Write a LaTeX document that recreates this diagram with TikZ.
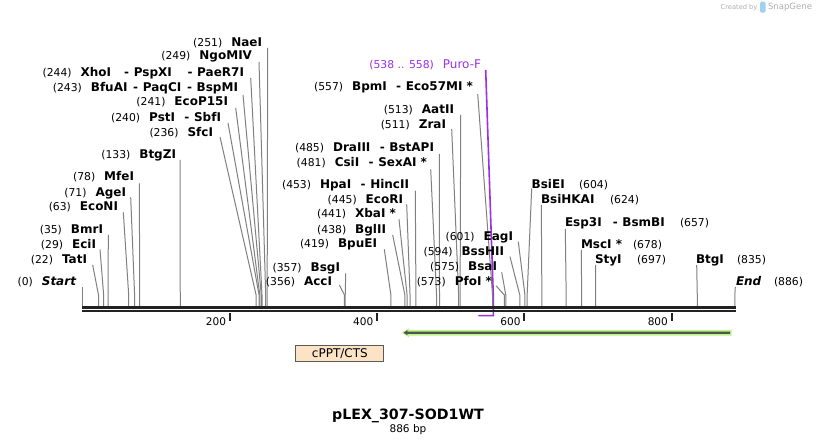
\documentclass[tikz,border=0pt]{standalone}
\usepackage{fontspec}
\setmainfont{DejaVu Sans}
\definecolor{cutgray}{RGB}{128,128,128}
\definecolor{bbcol}{RGB}{34,34,34}
\definecolor{prim}{RGB}{155,48,230}
\definecolor{featgreen}{RGB}{190,242,140}
\definecolor{featdark}{RGB}{78,88,72}
\definecolor{boxfill}{RGB}{253,227,198}
\definecolor{boxdraw}{RGB}{90,90,90}
\definecolor{logogray}{RGB}{175,175,175}
\definecolor{logoblue}{RGB}{160,210,240}
\newcommand\numf{\fontsize{8.1}{10}\selectfont\mdseries\upshape}
\newcommand\namef{\fontsize{9}{11}\selectfont\bfseries}
\newcommand\dsh[1][7pt]{\hspace{#1}-\hspace{3.5pt}}
\newcommand\Llab[5]{\node[lbl,anchor=base east] (#1) at (#2,{#3+4.3}) {{\numf(#4)}\hspace{6.75pt}{\namef #5}};}
\newcommand\Rlab[6]{\node[lbl,anchor=base west] (#1) at (#2,{#3+4.3}) {\namef #4};\node[lbl,anchor=base west] (#1n) at (#6,{#3+4.3}) {\numf(#5)};}
\newcommand\cutl[4]{\coordinate (s#1) at (#3,#4);\coordinate (k#1) at ({82.3+0.7365*#2},295);\draw[cutline] (s#1) -- (k#1) -- (k#1 |- bbtop);}
\newcommand\tickm[1]{\coordinate (t#1) at ({82.3+0.7365*#1},313.5);\draw[tickline] (t#1) -- ++(0,8);\path (t#1) ++(-3.6,11.9) node[lbl,anchor=base east] (tl#1) {\fontsize{7.9}{9}\selectfont #1};}
\begin{document}
\begin{tikzpicture}[x=0.75pt,y=-0.75pt,
  cutline/.style={draw=cutgray,line width=0.75pt},
  lbl/.style={inner sep=0pt,outer sep=0pt},
  tickline/.style={draw=bbcol,line width=1.5pt},
  bbthick/.style={draw=bbcol,line width=2pt},
  bbthin/.style={draw=bbcol,line width=1.7pt},
  primline/.style={draw=prim,line width=1.2pt}]
\useasboundingbox[fill=white] (0,0) rectangle (818,445);
\coordinate (bbtop) at (0,306);
% primer Puro-F
\node[lbl,anchor=base east,text=prim] (puro) at (481,68.3) {{\numf(538 .. 558)}\hspace{6.75pt}{\fontsize{9}{11}\selectfont Puro-F}};
\coordinate (pa) at (485.7,70);
\coordinate (pb) at (493.3,296);
\coordinate (pc) at (493.3,315.7);
\coordinate (pd) at (478.3,315.7);
\draw[primline,line join=miter] (pa) -- (pb) -- (pc) -- (pd);
% cut lines
\cutl{Start}{0}{82.3}{287}
\cutl{TatI}{22}{92.7}{265}
\cutl{EciI}{29}{100}{249.3}
\cutl{BmrI}{35}{108.3}{235}
\cutl{EcoNI}{63}{123.3}{212.3}
\cutl{AgeI}{71}{130.7}{197.3}
\cutl{MfeI}{78}{139.3}{183.3}
\cutl{BtgZI}{133}{180}{160}
\cutl{SfcI}{236}{220}{137}
\cutl{PstI}{240}{228}{123}
\cutl{EcoPI}{241}{235.7}{108}
\cutl{BfuAI}{243}{243}{95}
\cutl{XhoI}{244}{250.7}{78}
\cutl{NgoMIV}{249}{259}{62}
\cutl{NaeI}{251}{267.7}{48}
\cutl{BpmI}{557}{477.7}{94}
\cutl{AatII}{513}{460.7}{115}
\cutl{ZraI}{511}{451.7}{129}
\cutl{DraIII}{485}{439.3}{154}
\cutl{CsiI}{481}{430.7}{169.3}
\cutl{HpaI}{453}{415.3}{190.7}
\cutl{EcoRI}{445}{406.7}{204.3}
\cutl{XbaI}{441}{399}{219.3}
\cutl{BglII}{438}{392.7}{235}
\cutl{BpuEI}{419}{384.3}{249.3}
\cutl{BsgI}{357}{345.7}{273.3}
\cutl{AccI}{356}{339.3}{285}
\cutl{EagI}{601}{518.3}{241.7}
\cutl{BssHII}{594}{510}{256.7}
\cutl{BsaI}{575}{501.7}{272.3}
\cutl{PfoI}{573}{496}{285.7}
\cutl{BsiEI}{604}{531.7}{188.3}
\cutl{BsiHKAI}{624}{541.3}{205}
\cutl{Esp3I}{657}{565.3}{229}
\cutl{MscI}{678}{581.3}{250}
\cutl{StyI}{697}{595.7}{265}
\cutl{BtgI}{835}{696.7}{265}
\cutl{End}{886}{735.3}{287}
% backbone
\coordinate (bbL) at (82.3,307.2);
\coordinate (bbR) at (735.7,307.2);
\coordinate (bbL2) at (82.3,311.3);
\coordinate (bbR2) at (735.7,311.3);
\draw[bbthick] (bbL) -- (bbR);
\draw[bbthin] (bbL2) -- (bbR2);
% ticks
\tickm{200}
\tickm{400}
\tickm{600}
\tickm{800}
% labels left
\Llab{Start}{76}{281.7}{0}{\itshape Start}
\Llab{TatI}{87}{259}{22}{TatI}
\Llab{EciI}{96}{244.3}{29}{EciI}
\Llab{BmrI}{103}{229}{35}{BmrI}
\Llab{EcoNI}{118}{206.7}{63}{EcoNI}
\Llab{AgeI}{126}{192.3}{71}{AgeI}
\Llab{MfeI}{134}{176.7}{78}{MfeI}
\Llab{BtgZI}{176}{154}{133}{BtgZI}
\Llab{SfcI}{213}{132.3}{236}{SfcI}
\Llab{PstI}{221}{117.3}{240}{PstI\dsh SbfI}
\Llab{EcoPI}{228}{101}{241}{EcoP15I}
\Llab{BfuAI}{238}{87.3}{243}{BfuAI\dsh[4.3pt]PaqCI\dsh[4.3pt]BspMI}
\Llab{XhoI}{244}{72.3}{244}{XhoI\dsh[9.75pt]PspXI\dsh[11.8pt]PaeR7I}
\Llab{NgoMIV}{252}{55.7}{249}{NgoMIV}
\Llab{NaeI}{262}{42.3}{251}{NaeI}
% labels middle
\Llab{BpmI}{473}{86.7}{557}{BpmI\dsh Eco57MI *}
\Llab{AatII}{454}{109}{513}{AatII}
\Llab{ZraI}{446}{124}{511}{ZraI}
\Llab{DraIII}{434}{147.3}{485}{DraIII\dsh BstAPI}
\Llab{CsiI}{427}{162}{481}{CsiI\dsh SexAI *}
\Llab{HpaI}{409}{184}{453}{HpaI\dsh HincII}
\Llab{EcoRI}{403}{199}{445}{EcoRI}
\Llab{XbaI}{396}{213.3}{441}{XbaI *}
\Llab{BglII}{386}{229}{438}{BglII}
\Llab{BpuEI}{377}{243.3}{419}{BpuEI}
\Llab{BsgI}{340}{267.3}{357}{BsgI}
\Llab{AccI}{332}{281.7}{356}{AccI}
\Llab{EagI}{513}{236.7}{601}{EagI}
\Llab{BssHII}{504}{251.7}{594}{BssHII}
\Llab{BsaI}{497}{266.7}{575}{BsaI}
\Llab{PfoI}{492}{281.7}{573}{PfoI *}
% labels right
\Rlab{BsiEI}{531.7}{184}{BsiEI}{604}{579}
\Rlab{BsiHKAI}{541}{199}{BsiHKAI}{624}{610}
\Rlab{Esp3I}{565}{222.3}{Esp3I\dsh[8.3pt]BsmBI}{657}{680}
\Rlab{MscI}{581}{244}{MscI *}{678}{633}
\Rlab{StyI}{595}{259.3}{StyI}{697}{637}
\Rlab{BtgI}{696}{259.3}{BtgI}{835}{737}
\Rlab{End}{736}{281.7}{\itshape End}{886}{774}
% feature arrow
\fill[featgreen] (731.7,330) -- (409,330) -- (409,328.3) -- (401.7,332.7) -- (409,337.3) -- (409,335.6) -- (731.7,335.6) -- cycle;
\fill[featdark] (730,331.6) -- (407.3,331.6) -- (407.3,330.2) -- (403.5,332.7) -- (407.3,335.2) -- (407.3,333.9) -- (730,333.9) -- cycle;
% cPPT/CTS
\node[draw=boxdraw,fill=boxfill,line width=0.75pt,minimum width=65.8pt,minimum height=12.5pt,inner sep=0pt] (cppt) at (339.85,353.35) {\fontsize{9}{11}\selectfont cPPT/CTS};
% title
\node[lbl,anchor=base] (title) at (408,419.3) {\fontsize{10.65}{12}\selectfont\bfseries pLEX\_307-SOD1WT};
\node[lbl,anchor=base] (len) at (408,432.7) {\fontsize{7.9}{9}\selectfont 886 bp};
% logo
\node[lbl,anchor=base west,text=logogray] (cby) at (720.7,9.3) {\fontsize{5}{6}\selectfont Created by};
\fill[logoblue,rounded corners=1pt] (760,1.7) rectangle (765.5,12.7);
\node[lbl,anchor=base west,text=logogray] (sg) at (768,10) {\fontsize{6.4}{7}\selectfont SnapGene};
\end{tikzpicture}
\end{document}
